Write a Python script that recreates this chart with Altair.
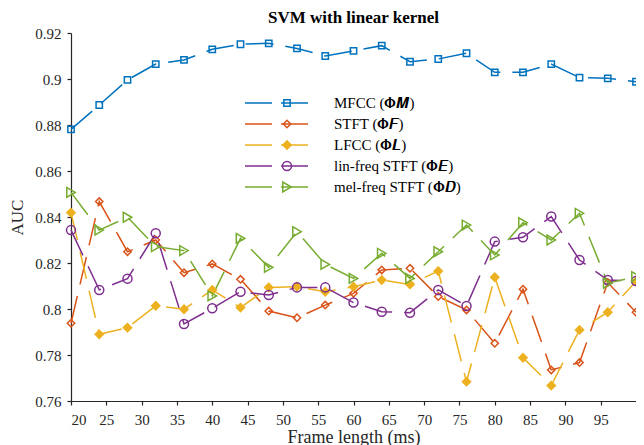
import altair as alt
import pandas as pd

frames = [20, 24, 28, 32, 36, 40, 44, 48, 52, 56, 60, 64, 68, 72, 76, 80, 84, 88, 92, 96, 100]

names = ["MFCC (𝚽𝑴)", "STFT (𝚽𝑭)", "LFCC (𝚽𝑳)", "lin-freq STFT (𝚽𝑬)", "mel-freq STFT (𝚽𝑫)"]
keys = ["M", "F", "L", "E", "D"]
colors = ["#0072BD", "#D95319", "#EDB120", "#7E2F8E", "#77AC30"]
shapes = ["square", "diamond", "diamond", "circle", "triangle-right"]
fills = ["transparent", "transparent", "#EDB120", "transparent", "transparent"]
sizes = [40, 95, 75, 80, 110]

mfcc = [0.8781, 0.8887, 0.8996, 0.9065, 0.9083, 0.9129, 0.9151, 0.9155, 0.9133, 0.9100, 0.9122,
        0.9145, 0.9075, 0.9087, 0.9112, 0.9029, 0.9029, 0.9065, 0.9006, 0.9003, 0.8988]
stft = [0.7938, 0.8467, 0.8249, 0.8300, 0.8158, 0.8196, 0.8129, 0.7991, 0.7962, 0.8017, 0.8068,
        0.8170, 0.8177, 0.8054, 0.7996, 0.7851, 0.8086, 0.7735, 0.7767, 0.8115, 0.7986]
lfcc = [0.8419, 0.7890, 0.7919, 0.8014, 0.7999, 0.8083, 0.8006, 0.8094, 0.8097, 0.8075, 0.8097,
        0.8126, 0.8107, 0.8165, 0.7684, 0.8138, 0.7788, 0.7667, 0.7909, 0.7986, 0.8120]
linf = [0.8343, 0.8083, 0.8132, 0.8329, 0.7935, 0.8003, 0.8075, 0.8061, 0.8094, 0.8094, 0.8028,
        0.7988, 0.7984, 0.8083, 0.8013, 0.8293, 0.8312, 0.8402, 0.8213, 0.8126, 0.8122]
melf = [0.8507, 0.8343, 0.8399, 0.8271, 0.8254, 0.8057, 0.8307, 0.8181, 0.8336, 0.8194, 0.8133,
        0.8242, 0.8133, 0.8249, 0.8365, 0.8235, 0.8375, 0.8300, 0.8416, 0.8112, 0.8141]

x_ticks = [20, 25, 30, 35, 40, 45, 50, 55, 60, 65, 70, 75, 80, 85, 90, 95]
y_ticks = [0.76, 0.78, 0.80, 0.82, 0.84, 0.86, 0.88, 0.90, 0.92]

rows = []
for name, key, vals in zip(names, keys, [mfcc, stft, lfcc, linf, melf]):
    for f, v in zip(frames, vals):
        rows.append({"frame": f, "auc": v, "series": name, "key": key})
df = pd.DataFrame(rows)

FONT = "Liberation Serif"
INK = "#262626"

x_enc = alt.X("frame:Q", scale=alt.Scale(domain=[20, 100], nice=False),
              axis=alt.Axis(values=x_ticks, title="Frame length (ms)", format="d",
                            labelPadding=7, titlePadding=1, titleFontSize=18))
y_enc = alt.Y("auc:Q", scale=alt.Scale(domain=[0.76, 0.92], nice=False, zero=False),
              axis=alt.Axis(values=y_ticks, title="AUC", format=".2~f", titlePadding=8,
                            labelPadding=6, titleFontSize=17))

CLIP = 20.7
line_legend = alt.Legend(
    orient="none", legendX=173, legendY=70 - CLIP / 2, title=None, symbolType="stroke",
    symbolSize=69 * 69, symbolStrokeWidth=1.5, symbolDash=[27, 9], clipHeight=CLIP,
    rowPadding=0, padding=0, labelFont=FONT, labelFontSize=15, labelColor="black",
    labelOffset=19, labelLimit=300,
)
point_legend = alt.Legend(
    orient="none", legendX=208.5, legendY=70 - CLIP / 2, title=None, symbolSize=80,
    symbolStrokeWidth=1.5, clipHeight=CLIP, rowPadding=0, padding=0,
    labelFont=FONT, labelFontSize=15, labelColor="rgba(0,0,0,0)", labelLimit=10,
)

lines = alt.Chart(df).mark_line(strokeWidth=1.5, strokeDash=[28, 12]).encode(
    x=x_enc, y=y_enc,
    stroke=alt.Stroke("series:N", scale=alt.Scale(domain=names, range=colors), legend=line_legend),
)

points = alt.Chart(df).mark_point(filled=False, strokeWidth=1.5, opacity=1).encode(
    x=x_enc, y=y_enc,
    color=alt.Color("key:N", scale=alt.Scale(domain=keys, range=colors), legend=point_legend),
    shape=alt.Shape("key:N", scale=alt.Scale(domain=keys, range=shapes), legend=point_legend),
    fill=alt.Fill("key:N", scale=alt.Scale(domain=keys, range=fills), legend=point_legend),
    size=alt.Size("key:N", scale=alt.Scale(domain=keys, range=sizes), legend=None),
)

chart = alt.layer(lines, points).properties(
    width=565, height=368,
    autosize=alt.AutoSizeParams(type="none"),
    padding={"left": 63, "top": 25, "right": 0, "bottom": 44},
    title=alt.TitleParams("SVM with linear kernel", font=FONT, fontSize=17, fontWeight="bold",
                          anchor="middle", offset=-1, color="black"),
).configure_view(stroke=None).configure_axis(
    grid=False, domainColor=INK, tickColor=INK, labelColor=INK, titleColor=INK,
    domainWidth=1.2, tickWidth=1.2, tickSize=4, labelFont=FONT, labelFontSize=15,
    titleFont=FONT, titleFontWeight="normal",
)

chart.save("out.html", embed_options={"renderer": "svg", "actions": False})
